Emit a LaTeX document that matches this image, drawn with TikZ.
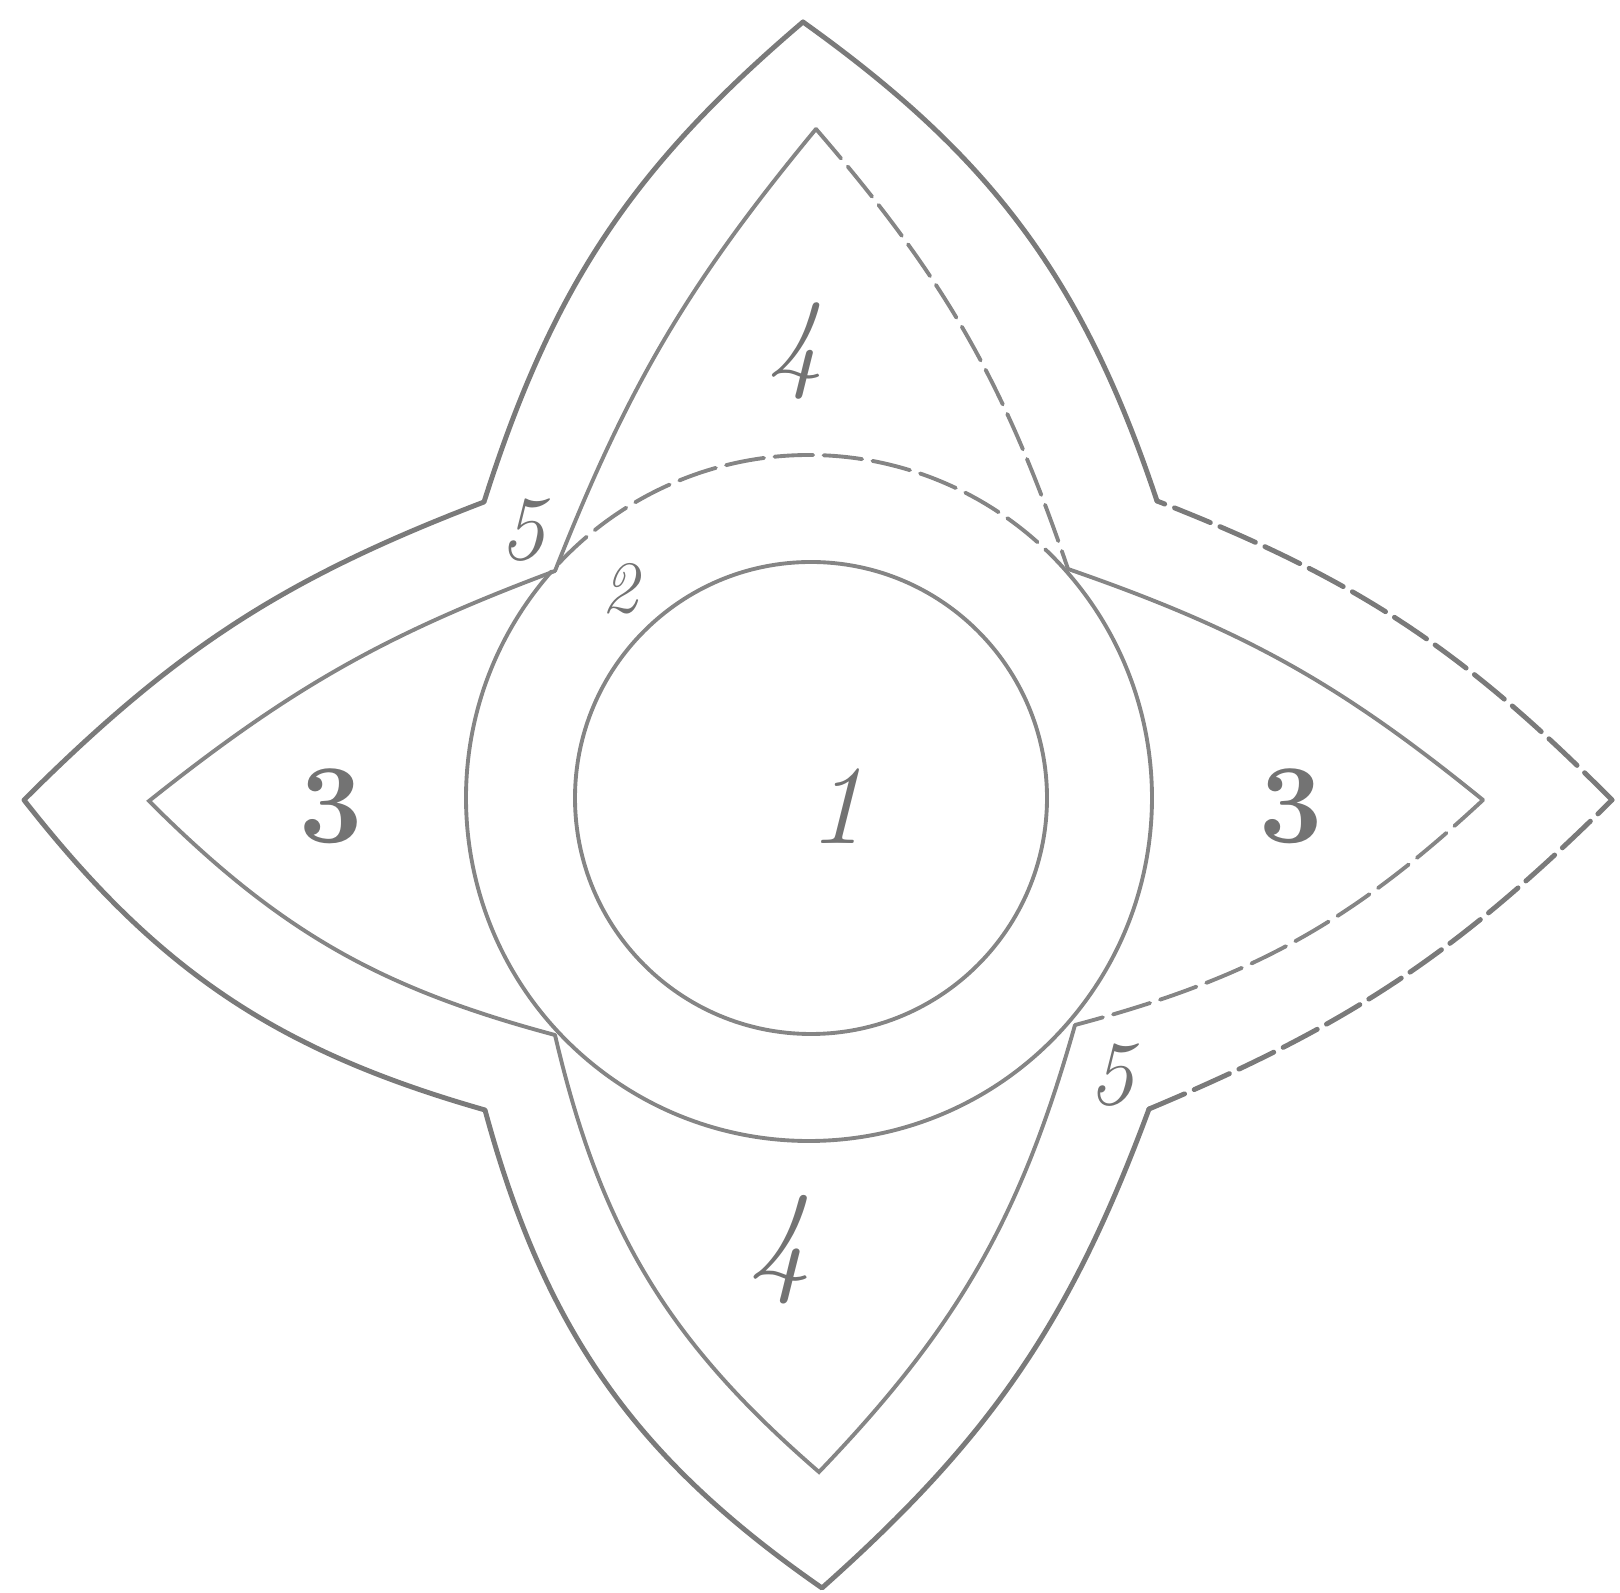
\documentclass[tikz,border=0pt]{standalone}
\usepackage{fontspec}

\begin{document}
\begin{tikzpicture}[
    x=0.1mm, y=-0.1mm,
    outline/.style={draw=black!52, line width=1.4pt, line cap=round, line join=round},
    rim/.style={draw=black!48, line width=1.1pt, line cap=round},
    broken/.style={dash pattern=on 11pt off 3pt},
    num/.style={text=black!55, inner sep=0pt, font=\itshape},
    bignum/.style={text=black!55, inner sep=0pt, font=\bfseries}
]
\useasboundingbox (0,0) rectangle (1620,1593);

%% Points of the outer star
\coordinate (tipT) at (803,22);
\coordinate (tipL) at (24,800);
\coordinate (tipB) at (822,1588);
\coordinate (tipR) at (1612,800);
\coordinate (cUL) at (484,502);
\coordinate (cUR) at (1157,501);
\coordinate (cLL) at (485,1110);
\coordinate (cLR) at (1149,1109);

%% Points of the inner lenses
\coordinate (jUL) at (555,571);
\coordinate (jUR) at (1068,569);
\coordinate (jLL) at (555,1035);
\coordinate (jLR) at (1075,1025);
\coordinate (apT) at (816,129);
\coordinate (apL) at (149,801);
\coordinate (apR) at (1483,800);
\coordinate (apB) at (819,1472);
\coordinate (mid) at (809,798);

%% Outer star
\draw[outline] (tipT) to[bend right=16] (cUL) to[bend right=12] (tipL)
    to[bend right=18] (cLL) to[bend right=20] (tipB) to[bend right=14] (cLR);
\draw[outline] (cUR) to[bend right=18] (tipT);
\draw[outline, broken] (cLR) to[bend right=11] (tipR);
\draw[outline, broken] (tipR) to[bend right=12] (cUR);

%% Inner lenses
\draw[rim] (jUL) to[bend left=9] (apT);
\draw[rim, broken] (apT) to[bend left=11] (jUR);
\draw[rim] (jLL) to[bend left=15] (apL) to[bend left=9] (jUL);
\draw[rim] (jUR) to[bend left=10] (apR);
\draw[rim, broken] (apR) to[bend left=14] (jLR);
\draw[rim] (jLR) to[bend left=14] (apB) to[bend left=18] (jLL);

%% Circles
\draw[rim, broken] ([shift={(40:34.3mm)}]mid) arc[start angle=40, end angle=140, radius=34.3mm];
\draw[rim] ([shift={(140:34.3mm)}]mid) arc[start angle=140, end angle=400, radius=34.3mm];
\draw[rim] ([xshift=0.2mm]mid) circle (23.6mm);

%% Numbers
\node[num, font=\itshape\fontsize{32}{32}\selectfont] (n4t) at (796,351) {4};
\node[num, font=\itshape\fontsize{26}{26}\selectfont] (n5a) at (522,530) {5};
\node[num, font=\itshape\fontsize{21}{21}\selectfont] (n2) at (620,589) {2};
\node[num, font=\itshape\fontsize{32}{32}\selectfont] (n1) at (837,806) {1};
\node[bignum, font=\bfseries\fontsize{32}{32}\selectfont] (n3l) at (331,806) {3};
\node[bignum, font=\bfseries\fontsize{32}{32}\selectfont] (n3r) at (1291,806) {3};
\node[num, font=\itshape\fontsize{36}{36}\selectfont] (n4b) at (780,1250) {4};
\node[num, font=\itshape\fontsize{26}{26}\selectfont] (n5b) at (1111,1075) {5};

\end{tikzpicture}
\end{document}
